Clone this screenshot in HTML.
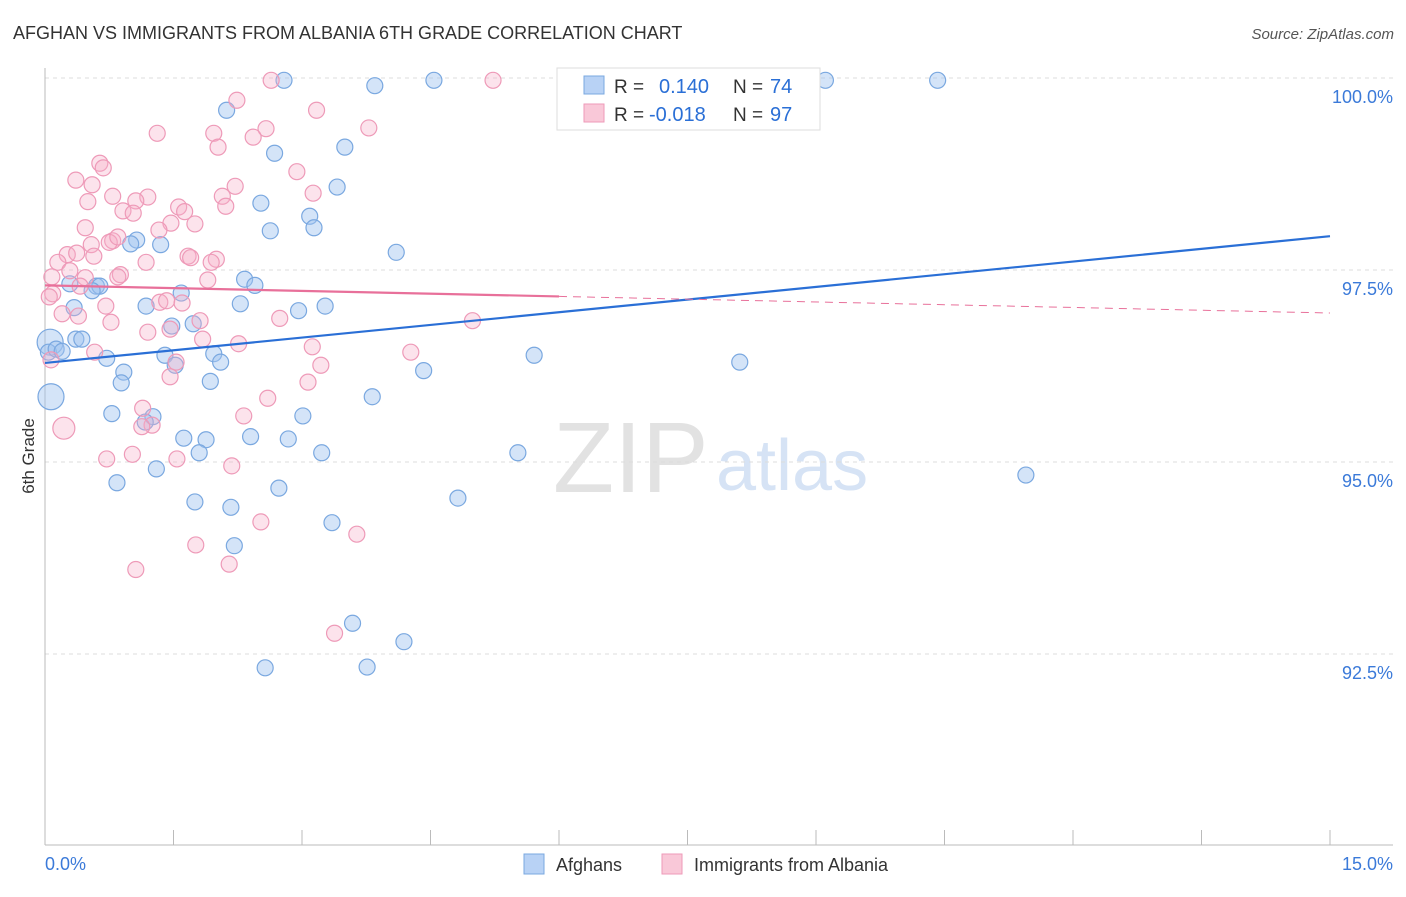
<!DOCTYPE html>
<html><head><meta charset="utf-8">
<style>
body{margin:0;background:#fff;font-family:"Liberation Sans",sans-serif;}
svg text{font-family:"Liberation Sans",sans-serif;}
</style></head>
<body>
<svg id="chart" width="1406" height="892" xmlns="http://www.w3.org/2000/svg">
<text x="13" y="39" font-size="18" fill="#333">AFGHAN VS IMMIGRANTS FROM ALBANIA 6TH GRADE CORRELATION CHART</text>
<text x="1394" y="39" font-size="15" fill="#555" font-style="italic" text-anchor="end">Source: ZipAtlas.com</text>
<g>
<text x="553" y="492" font-size="100" font-family="Liberation Serif,serif" fill="#e2e2e2">ZIP</text>
<text x="716" y="490" font-size="72" fill="#d6e3f5">atlas</text>
</g>
<g id="grid"></g>
<g id="axes"></g>
<g id="pts-b"></g>
<g id="pts-p"></g>
<g id="lines"></g>
<text transform="translate(34,456) rotate(-90)" font-size="17" fill="#333" text-anchor="middle">6th Grade</text>
<g>
<rect x="557" y="68" width="263" height="62" fill="#fff" stroke="#ddd"/>
<rect x="584" y="76" width="20" height="18" fill="#b8d2f5" stroke="#7aa8e0"/>
<rect x="584" y="104" width="20" height="18" fill="#f9c8d8" stroke="#ee9ab8"/>
<text x="614" y="93" font-size="19" fill="#333">R =</text>
<text x="659" y="93" font-size="20" fill="#2a6fd6">0.140</text>
<text x="733" y="93" font-size="19" fill="#333">N =</text>
<text x="770" y="93" font-size="20" fill="#2a6fd6">74</text>
<text x="614" y="121" font-size="19" fill="#333">R =</text>
<text x="649" y="121" font-size="20" fill="#2a6fd6">-0.018</text>
<text x="733" y="121" font-size="19" fill="#333">N =</text>
<text x="770" y="121" font-size="20" fill="#2a6fd6">97</text>
</g>
<g>
<rect x="524" y="854" width="20" height="20" fill="#b8d2f5" stroke="#7aa8e0"/>
<text x="556" y="871" font-size="18" fill="#333">Afghans</text>
<rect x="662" y="854" width="20" height="20" fill="#f9c8d8" stroke="#ee9ab8"/>
<text x="694" y="871" font-size="18" fill="#333">Immigrants from Albania</text>
</g>
</svg>
<script>
const yTicks=[100,97.5,95,92.5];
const yTickLabels=["100.0%","97.5%","95.0%","92.5%"];
const xEndLabels=["0.0%","15.0%"];
const blueX=[2.79,3.85,4.54,6.85,9.11,10.42,2.12,3.50,2.68,3.41,2.52,3.09,3.14,2.63,4.10,1.07,1.00,1.35,0.29,0.60,0.64,0.55,2.33,2.45,1.59,1.18,2.28,2.96,3.27,1.48,1.73,0.34,0.06,0.04,0.13,0.20,0.36,0.43,0.72,1.40,1.52,1.97,2.05,0.92,0.89,1.93,4.42,5.71,8.11,0.07,3.82,0.78,1.26,1.17,3.01,1.62,1.88,2.40,2.84,1.80,3.23,5.52,1.30,0.84,11.45,2.73,1.75,2.17,4.82,3.35,2.21,3.59,4.19,2.57,3.76];
const blueY=[99.97,99.90,99.97,99.97,99.97,99.97,99.58,99.10,99.02,98.58,98.37,98.20,98.05,98.01,97.73,97.89,97.84,97.83,97.32,97.29,97.29,97.23,97.38,97.30,97.20,97.03,97.06,96.97,97.03,96.77,96.80,97.01,96.56,96.43,96.47,96.44,96.60,96.60,96.35,96.39,96.26,96.41,96.30,96.17,96.03,96.05,96.19,96.39,96.30,95.85,95.85,95.63,95.59,95.52,95.60,95.31,95.29,95.33,95.30,95.12,95.12,95.12,94.91,94.73,94.83,94.66,94.48,94.41,94.53,94.21,93.91,92.90,92.66,92.32,92.33];
const blueBig=[32,49];
const pinkX=[2.64,5.23,2.24,3.17,2.58,1.31,3.78,1.97,2.43,2.02,0.64,0.68,2.94,0.36,0.55,2.22,0.79,1.20,0.50,2.07,3.13,2.11,1.06,1.56,1.63,0.91,1.03,0.47,1.47,1.75,1.33,0.79,0.54,0.75,0.85,0.26,0.37,0.57,0.15,1.18,1.67,1.70,2.00,1.94,0.08,0.29,0.88,0.85,0.47,1.90,0.09,0.41,0.05,0.71,0.20,0.39,1.34,1.42,1.60,1.81,0.77,1.20,2.26,2.74,1.46,1.84,3.12,0.58,0.07,1.53,3.22,1.46,3.07,4.27,4.99,2.60,1.14,2.32,1.25,0.22,1.13,0.72,1.02,1.54,2.18,2.52,1.76,3.64,2.15,1.06,3.38];
const pinkY=[99.97,99.97,99.71,99.58,99.34,99.28,99.35,99.28,99.23,99.10,98.89,98.83,98.78,98.67,98.61,98.59,98.46,98.45,98.39,98.46,98.50,98.33,98.40,98.32,98.26,98.27,98.24,98.05,98.11,98.10,98.02,97.88,97.83,97.86,97.93,97.70,97.72,97.68,97.60,97.60,97.68,97.66,97.64,97.60,97.41,97.49,97.44,97.41,97.40,97.37,97.19,97.29,97.15,97.03,96.93,96.90,97.08,97.10,97.07,96.84,96.82,96.69,96.54,96.87,96.73,96.60,96.50,96.43,96.33,96.30,96.26,96.11,96.04,96.43,96.84,95.83,95.70,95.60,95.48,95.44,95.46,95.04,95.10,95.04,94.95,94.22,93.92,94.06,93.67,93.60,92.77];
const pinkBig=[79];
const blueTrend=[96.29,97.94];
const pinkTrend=[97.30,96.94];
const pinkSolidEndX=6.0;

const NS="http://www.w3.org/2000/svg";
const X0=45,X1=1330,Y100=78,PXPER=76.8;
function sx(v){return X0+(X1-X0)*v/15;}
function sy(v){return Y100+(100-v)*PXPER;}
function mk(tag,attrs,parent){const e=document.createElementNS(NS,tag);for(const k in attrs)e.setAttribute(k,attrs[k]);parent.appendChild(e);return e;}
const grid=document.getElementById('grid'),axes=document.getElementById('axes');
yTicks.forEach((t,i)=>{
  const l=mk('line',{x1:45,x2:1393,y1:sy(t),y2:sy(t),stroke:'#dcdcdc','stroke-dasharray':'4,4'},grid);
  
  
  const tx=mk('text',{x:1393,y:sy(t)+25,'font-size':18,fill:'#3b7ad9','text-anchor':'end'},axes);
  tx.textContent=yTickLabels[i];
  
  
});
mk('line',{x1:45,x2:45,y1:68,y2:845,stroke:'#bbb'},axes);
mk('line',{x1:45,x2:1393,y1:845,y2:845,stroke:'#bbb'},axes);
for(let i=0;i<=10;i++){const x=sx(i*1.5);const tk=mk('line',{x1:x,x2:x,y1:830,y2:845,stroke:'#bbb'},axes);
  
  }
const xl=mk('text',{x:45,y:870,'font-size':18,fill:'#3b7ad9'},axes);xl.textContent=xEndLabels[0];


const xr=mk('text',{x:1393,y:870,'font-size':18,fill:'#3b7ad9','text-anchor':'end'},axes);xr.textContent=xEndLabels[1];



const gb=document.getElementById('pts-b'),gp=document.getElementById('pts-p');
blueX.forEach((x,i)=>{const c=mk('circle',{cx:sx(x),cy:sy(blueY[i]),r:blueBig.includes(i)?13:8,fill:'rgba(160,196,240,0.45)',stroke:'#7aa8e0','stroke-width':1.2},gb);
  
  });
pinkX.forEach((x,i)=>{const c=mk('circle',{cx:sx(x),cy:sy(pinkY[i]),r:pinkBig.includes(i)?11:8,fill:'rgba(246,176,200,0.35)',stroke:'#ee9ab8','stroke-width':1.2},gp);
  
  });
const gl=document.getElementById('lines');
const bl=mk('line',{x1:sx(0),y1:sy(blueTrend[0]),x2:sx(15),y2:sy(blueTrend[1]),stroke:'#2a6fd6','stroke-width':2.2},gl);


const pAt=v=>pinkTrend[0]+(pinkTrend[1]-pinkTrend[0])*v/15;
const pl=mk('line',{x1:sx(0),y1:sy(pinkTrend[0]),x2:sx(pinkSolidEndX),y2:sy(pAt(pinkSolidEndX)),stroke:'#e8709a','stroke-width':2.2},gl);


const pd=mk('line',{x1:sx(pinkSolidEndX),y1:sy(pAt(pinkSolidEndX)),x2:sx(15),y2:sy(pinkTrend[1]),stroke:'#e8709a','stroke-width':1,'stroke-dasharray':'8,6'},gl);


</script>
</body></html>
